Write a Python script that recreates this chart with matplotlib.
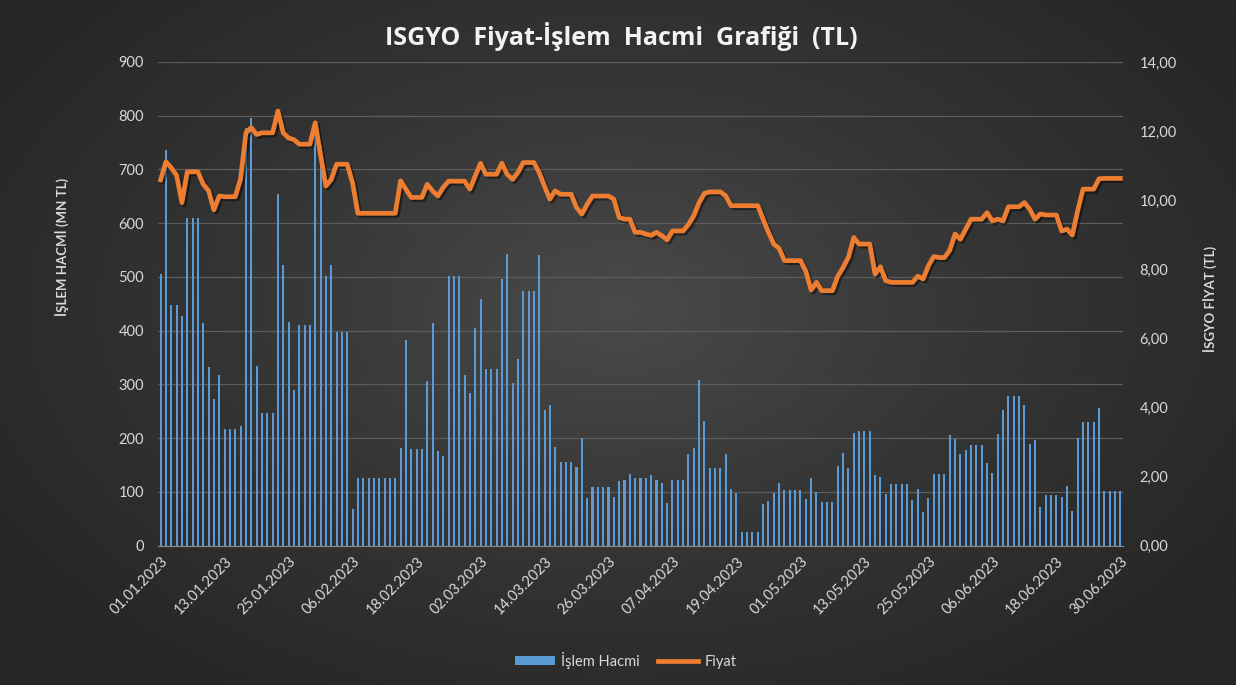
import numpy as np
import pandas as pd
import matplotlib
matplotlib.use('Agg')
import matplotlib.pyplot as plt
from matplotlib import patheffects as pe
from matplotlib.colors import LinearSegmentedColormap
from matplotlib.lines import Line2D
from matplotlib.patches import Patch

plt.rcParams['font.family'] = ['Lato', 'DejaVu Sans']

# daily categories, 01.01.2023 - 30.06.2023 (weekends / holidays carry last value)
dates = pd.date_range('2023-01-01', '2023-06-30', freq='D')

# islem hacmi (MN TL)
volume = [
    505, 737, 447, 448, 427, 610, 610,
    610, 415, 333, 273, 318, 217, 217,
    217, 223, 778, 795, 335, 246, 246,
    246, 655, 523, 416, 290, 411, 411,
    411, 780, 745, 502, 523, 398, 398,
    398, 69, 125, 125, 125, 125, 125,
    125, 125, 125, 181, 382, 179, 179,
    179, 306, 414, 176, 166, 501, 501,
    501, 317, 284, 405, 459, 328, 328,
    328, 497, 542, 303, 347, 474, 474,
    474, 540, 252, 262, 184, 156, 156,
    156, 147, 201, 88, 110, 110, 110,
    110, 90, 120, 123, 134, 125, 125,
    125, 132, 123, 116, 80, 123, 123,
    123, 171, 181, 309, 232, 145, 145,
    145, 170, 106, 98, 26, 26, 26,
    26, 77, 84, 98, 116, 103, 103,
    103, 103, 86, 126, 100, 82, 82,
    82, 149, 173, 144, 209, 213, 213,
    213, 132, 128, 97, 114, 114, 114,
    114, 85, 106, 62, 88, 134, 134,
    134, 205, 198, 170, 178, 187, 187,
    187, 153, 136, 207, 252, 278, 278,
    278, 262, 190, 196, 72, 94, 94,
    94, 91, 111, 65, 200, 230, 230,
    230, 256, 101, 101, 101, 101,
]

# fiyat (TL)
price = [
    10.59, 11.11, 10.94, 10.72, 9.93, 10.82, 10.82,
    10.82, 10.46, 10.27, 9.72, 10.12, 10.10, 10.10,
    10.10, 10.62, 11.95, 12.10, 11.90, 11.95, 11.95,
    11.95, 12.58, 11.95, 11.80, 11.75, 11.62, 11.62,
    11.62, 12.24, 11.30, 10.41, 10.60, 11.04, 11.04,
    11.04, 10.50, 9.62, 9.62, 9.62, 9.62, 9.62,
    9.62, 9.62, 9.62, 10.56, 10.32, 10.08, 10.08,
    10.08, 10.46, 10.27, 10.12, 10.37, 10.55, 10.55,
    10.55, 10.55, 10.32, 10.70, 11.07, 10.75, 10.75,
    10.75, 11.07, 10.75, 10.60, 10.80, 11.09, 11.09,
    11.09, 10.80, 10.40, 10.03, 10.27, 10.17, 10.17,
    10.17, 9.79, 9.60, 9.88, 10.12, 10.12, 10.12,
    10.12, 10.03, 9.50, 9.45, 9.45, 9.07, 9.07,
    9.02, 8.98, 9.07, 8.97, 8.85, 9.11, 9.11,
    9.11, 9.30, 9.55, 9.93, 10.20, 10.24, 10.24,
    10.24, 10.12, 9.84, 9.84, 9.84, 9.84, 9.84,
    9.84, 9.45, 9.07, 8.73, 8.60, 8.25, 8.25,
    8.25, 8.25, 7.95, 7.40, 7.62, 7.38, 7.38,
    7.38, 7.80, 8.05, 8.35, 8.92, 8.73, 8.73,
    8.73, 7.86, 8.07, 7.67, 7.62, 7.62, 7.62,
    7.62, 7.62, 7.80, 7.72, 8.10, 8.37, 8.34,
    8.34, 8.55, 9.02, 8.87, 9.16, 9.45, 9.45,
    9.45, 9.64, 9.40, 9.45, 9.40, 9.81, 9.81,
    9.81, 9.93, 9.74, 9.45, 9.60, 9.57, 9.57,
    9.57, 9.11, 9.16, 8.99, 9.70, 10.32, 10.32,
    10.32, 10.62, 10.63, 10.63, 10.63, 10.63,
]

col_bar = '#5b9bd5'
col_line = '#ed7d31'
col_text = '#d9d9d9'

fig = plt.figure(figsize=(12.36, 6.85), dpi=100)

# dark radial background
bg = fig.add_axes([0, 0, 1, 1], zorder=-10)
yy, xx = np.mgrid[0:1:300j, 0:1:500j]
r = np.sqrt(((xx - 0.5) / 0.75) ** 2 + ((yy - 0.45) / 0.85) ** 2)
cmap = LinearSegmentedColormap.from_list('bg', ['#4a4a4a', '#353535', '#262626'])
bg.imshow(r, cmap=cmap, extent=[0, 1, 0, 1], aspect='auto', vmin=0, vmax=0.8)
bg.axis('off')

ax = fig.add_axes([0.1278, 0.2034, 0.7808, 0.7061])
ax.patch.set_alpha(0)
x = np.arange(len(dates))
ax.bar(x, volume, width=0.38, color=col_bar, zorder=2)
ax.set_xlim(-0.5, len(dates) - 0.5)
ax.set_ylim(0, 900)
ax.set_yticks(range(0, 901, 100))
ax.grid(axis='y', color='#5c5c5c', lw=0.9)
ax.set_axisbelow(True)
for s in ['top', 'left', 'right']:
    ax.spines[s].set_visible(False)
ax.spines['bottom'].set_color('#8c8c8c')
ax.tick_params(axis='y', colors=col_text, length=0, labelsize=10.5, pad=10)
ax.tick_params(axis='x', colors=col_text, length=0, labelsize=10.5, pad=6)
ax.set_xticks(x[::12])
ax.set_xticklabels(dates[::12].strftime('%d.%m.%Y'), rotation=45, ha='right',
                   rotation_mode='anchor')

ax2 = ax.twinx()
ax2.plot(x, price, color=col_line, lw=3.4, solid_joinstyle='round', zorder=3,
         path_effects=[pe.SimpleLineShadow(offset=(1.5, -1.5), shadow_color='black', alpha=0.45),
                       pe.Normal()])
ax2.set_ylim(0, 14)
ax2.set_yticks(range(0, 15, 2))
ax2.set_yticklabels([f'{v:.2f}'.replace('.', ',') for v in range(0, 15, 2)])
ax2.tick_params(axis='y', colors=col_text, length=0, labelsize=10.5, pad=12)
for s in ax2.spines.values():
    s.set_visible(False)

# title is letter-spaced in the original
fig.text(0.503, 0.946, 'ISGYO  Fiyat-İşlem  Hacmi  Grafiği  (TL)', ha='center', va='center',
         fontsize=18, fontweight='bold', color='#f2f2f2', family=['Open Sans', 'DejaVu Sans'])
fig.text(0.050, 0.639, 'İŞLEM HACMİ (MN TL)', rotation=90, ha='center', va='center',
         fontsize=9.5, fontweight='bold', color=col_text)
fig.text(0.979, 0.563, 'İSGYO FİYAT (TL)', rotation=90, ha='center', va='center',
         fontsize=9.5, fontweight='bold', color=col_text)

handles = [Patch(facecolor=col_bar, edgecolor='none'),
           Line2D([0], [0], color=col_line, lw=3.4)]
fig.legend(handles, ['İşlem Hacmi', 'Fiyat'], loc='center', bbox_to_anchor=(0.506, 0.036),
           ncol=2, frameon=False, fontsize=10.5, labelcolor=col_text,
           handlelength=2.8, handleheight=0.6, columnspacing=1.2, handletextpad=0.4)

fig.savefig('out.png', dpi=100)
